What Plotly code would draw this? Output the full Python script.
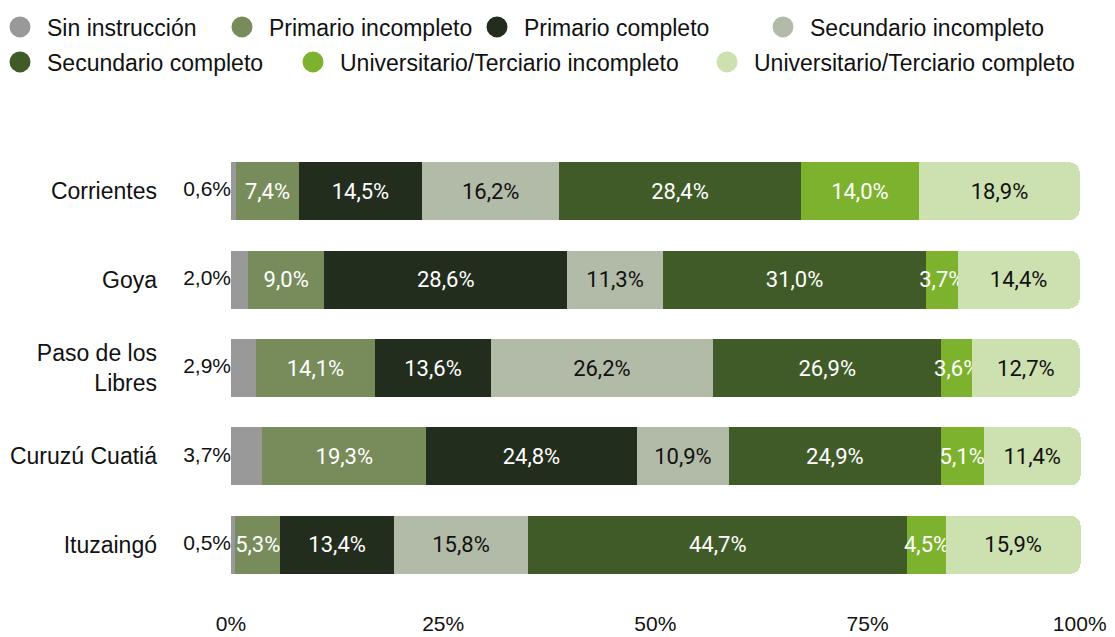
import plotly.graph_objects as go

regions = ["Corrientes", "Goya", "Paso de los<br>Libres", "Curuzú Cuatiá", "Ituzaingó"]
levels = [
    "Sin instrucción",
    "Primario incompleto",
    "Primario completo",
    "Secundario incompleto",
    "Secundario completo",
    "Universitario/Terciario incompleto",
    "Universitario/Terciario completo",
]
sin_instruccion = [0.6, 2.0, 2.9, 3.7, 0.5]
primario_incompleto = [7.4, 9.0, 14.1, 19.3, 5.3]
primario_completo = [14.5, 28.6, 13.6, 24.8, 13.4]
secundario_incompleto = [16.2, 11.3, 26.2, 10.9, 15.8]
secundario_completo = [28.4, 31.0, 26.9, 24.9, 44.7]
univ_incompleto = [14.0, 3.7, 3.6, 5.1, 4.5]
univ_completo = [18.9, 14.4, 12.7, 11.4, 15.9]
x_ticks = [0, 25, 50, 75, 100]
x_tick_labels = ["0%", "25%", "50%", "75%", "100%"]

series = [sin_instruccion, primario_incompleto, primario_completo, secundario_incompleto,
          secundario_completo, univ_incompleto, univ_completo]
colors = ["#999999", "#778c5a", "#232d1e", "#b2bba8", "#415b28", "#7db22e", "#cde0b0"]
text_colors = [None, "white", "white", "#111111", "white", "white", "#111111"]

W, H = 1115, 637
ML, MR, MT, MB = 231, 34, 147, 48
PW = W - ML - MR
PH = H - MT - MB

ARIAL = "Liberation Sans, Arial"
ITEMW = 44
SYM_OFF = 5 + ITEMW / 2

fig = go.Figure()
for i, (name, vals) in enumerate(zip(levels, series)):
    if i == 0:
        fig.add_trace(go.Bar(y=regions, x=vals, orientation="h", marker_color=colors[i],
                             marker_line_width=0, showlegend=False, hoverinfo="skip",
                             cliponaxis=False))
    else:
        fig.add_trace(go.Bar(y=regions, x=vals, orientation="h", marker_color=colors[i],
                             marker_line_width=0, showlegend=False, cliponaxis=False,
                             texttemplate="%{x:.1f}%", textposition="inside",
                             insidetextanchor="middle", constraintext="none",
                             textangle=0,
                             insidetextfont=dict(family="Roboto", size=22, color=text_colors[i])))

# outside labels for "Sin instrucción"
fig.add_trace(go.Scatter(y=regions, x=[0] * len(regions), mode="text",
                         text=[f"{v:.1f}%".replace(".", ",") for v in sin_instruccion],
                         textposition="middle left", showlegend=False, cliponaxis=False,
                         textfont=dict(family=ARIAL, size=21, color="#111111")))

# legend entries (circles), one legend each for precise placement
marker_px = [(20, 27), (242, 27), (497, 27), (783, 27), (20, 62), (313, 62), (727, 62)]
layout_legends = {}
for i, name in enumerate(levels):
    key = "legend" if i == 0 else f"legend{i + 1}"
    fig.add_trace(go.Scatter(x=[None], y=[None], mode="markers", name=name,
                             marker=dict(color=colors[i], size=16, symbol="circle",
                                         line=dict(color=colors[i], width=5)),
                             showlegend=True, legend=key))
    mx, my = marker_px[i]
    layout_legends[key] = dict(
        x=(mx - SYM_OFF - ML) / PW, xanchor="left",
        y=(H - MB - my) / PH, yanchor="middle",
        orientation="h", bgcolor="rgba(0,0,0,0)", borderwidth=0, itemwidth=ITEMW,
        font=dict(family=ARIAL, size=23, color="#111111"),
        itemclick=False, itemdoubleclick=False,
    )

fig.update_layout(
    width=W, height=H,
    margin=dict(l=ML, r=MR, t=MT, b=MB, autoexpand=False),
    barmode="stack", bargap=0.345, barcornerradius=10,
    plot_bgcolor="white", paper_bgcolor="white",
    separators=",.",
    xaxis=dict(range=[0, 100.15], tickvals=x_ticks, ticktext=x_tick_labels, showgrid=False,
               zeroline=False, showline=False, ticks="", ticklabelstandoff=20,
               tickfont=dict(family=ARIAL, size=21, color="#111111"),
               fixedrange=True),
    yaxis=dict(autorange="reversed", showgrid=False, zeroline=False, showline=False,
               ticks="", ticklabelstandoff=73,
               tickfont=dict(family=ARIAL, size=23, color="#111111"),
               fixedrange=True),
    **layout_legends,
)

fig.write_html("out.html", config={"displayModeBar": False},
               post_script="document.body.style.margin='0';document.body.style.overflow='hidden';")
